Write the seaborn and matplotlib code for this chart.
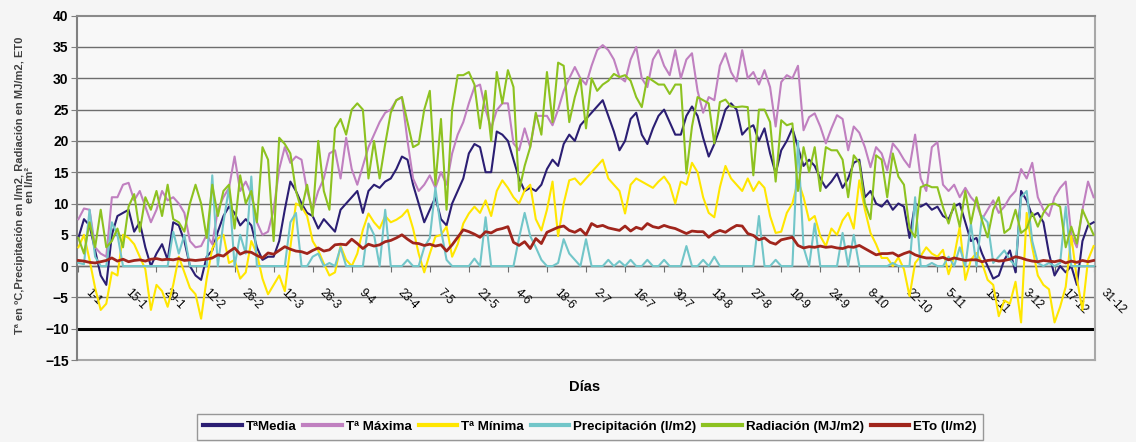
import numpy as np
import pandas as pd
import matplotlib
matplotlib.use("Agg")
import matplotlib.pyplot as plt
import matplotlib.transforms as mtransforms
import seaborn as sns

# ---------------- data (one value every 2 days, day index 0..364) ----------------
dias = list(range(0, 365, 2))

t_media = [
    4.5, 7.5, 6.5, 2.5, -1.5, -3, 5,
    8, 8.5, 9, 5.5, 7, 3, 0,
    2, 3.5, 1, 7, 6.5, 4, 0,
    -1.5, -2.2, 1.5, 2.5, 5.5, 8, 9.5,
    8.5, 6.5, 7.5, 6.5, 3, 1, 1.5,
    1.5, 4, 9, 13.5, 12, 10, 8.5,
    8, 6, 7.5, 6.5, 5.5, 9, 10,
    11, 12, 8.5, 12, 13, 12.5, 13.5,
    14, 15.5, 17.5, 17, 13, 10, 7,
    9, 11, 7.5, 6.5, 10, 12, 14,
    18, 19.5, 19, 15, 15, 21.5, 21,
    20, 17, 14, 12, 12.5, 12, 13,
    15.5, 17, 16, 19.5, 21, 20, 22.5,
    23.5, 24.5, 25.5, 26.5, 24, 21.5, 18.5,
    20, 23.5, 24.5, 21, 19.5, 22, 24,
    25, 23, 21, 21, 24, 25.5, 24,
    20.5, 17.5, 19.5, 22, 25, 26, 25,
    21, 22, 22.5, 20, 22, 18, 14.8,
    18.5, 20, 22, 19, 16, 17, 16,
    14, 12.5, 13.5, 14.8, 12.5, 14, 16.5,
    17, 11, 12, 10, 9.5, 10.5, 9,
    10, 9.5, 4.5, 10, 9.5, 10, 9,
    9.5, 8, 7.5, 9.5, 10, 7, 4,
    4.5, 2, 0, -2, -1.5, 1, 2.5,
    -1, 12, 10.5, 8, 8.5, 7, 2,
    -1.5, 0, -1, 0, -3, 4, 6.5,
    7,
]

t_maxima = [
    7.5, 9.2, 9, 3, 2, 1.5, 11,
    11, 13, 13.3, 10.5, 12, 9.5, 7,
    9, 12, 10.5, 11, 10, 8.5, 4,
    3, 3.2, 5, 3.5, 9, 11, 12.5,
    17.5, 12, 13.5, 11.5, 7, 5, 5.5,
    9, 15.5, 19, 16.5, 17.5, 17, 12,
    9, 12, 14, 18, 18.5, 14, 20.5,
    15.5, 13, 16, 19, 21, 23, 24.5,
    25, 26.5, 27, 20, 14, 12, 13,
    14.5, 12.5, 15, 13, 18, 21, 23,
    26, 28.6, 29, 25, 22, 24.9, 26,
    26, 19.6, 18.5, 22, 19, 24, 24,
    24, 22.5, 25, 28, 30, 31.8, 30,
    29, 32, 34.5, 35.3, 34.5, 33, 30.2,
    29.5, 33, 35, 30, 28.6, 33, 34.5,
    32, 30.5, 34.5, 30, 33, 34, 28,
    24.5, 27, 26.5, 32, 34, 31, 29.5,
    34.5, 30, 31, 29, 31.3, 28.6, 22.3,
    29.4, 30.5, 30, 32, 21.7, 23.8, 24.4,
    22.3, 19.6, 22, 24.1, 23.5, 18.5, 22.3,
    21.3, 19, 15.8, 19, 18, 15.3, 19.6,
    18.5, 17, 15.8, 21, 14, 12, 19,
    19.8, 13, 12, 13, 11, 12.5, 11,
    10, 7.5, 9, 10.5, 8.5, 9.5, 11,
    12, 15.5, 14, 16.5, 11, 9, 8,
    11, 12.5, 13.5, 5, 3, 9, 13.5,
    11,
]

t_minima = [
    3, 5, 1, -3.5, -7, -6, -1,
    -1.5, 5, 4.5, 3.5, 1.5, -0.5, -7,
    -3, -4, -6.5, -3, 1.5, -1, -3.5,
    -4.5, -8.4, -2, 2.8, 4.4, 5, 0.5,
    1, -2, -1, 4, 2, -2, -4.5,
    -3, -1.5, -4, 3, 10, 9.5, 8,
    4, 2.5, 0.4, -1.5, -1, 3.2, 1,
    0, 2, 5.8, 8.4, 7, 6, 8,
    7, 7.4, 8, 9, 6, 2, -1,
    2, 4.7, 5, 6.3, 1.5, 3.5, 6.8,
    8.4, 9.5, 8.5, 10.5, 8, 12, 13.7,
    12.5, 11, 10, 12.1, 13, 7.5, 5.7,
    9, 13.5, 4.8, 10, 13.7, 14, 13,
    14, 15, 16, 17, 14, 13, 12,
    8.4, 13, 14, 13.5, 13, 12.5, 13.5,
    14.3, 13, 10, 13.5, 13, 16.5, 15,
    11, 8.5, 7.8, 12.6, 16, 14, 13,
    12, 14, 12, 13.5, 12.5, 8, 5.3,
    5.5, 8.5, 10, 13.7, 11, 7.3, 8,
    4.8, 3.2, 6, 5, 7.3, 8.5, 6,
    13.7, 9, 5.3, 3.5, 1.3, 1.3, 0,
    1.4, -0.5, -4.8, 0.5, 1.6, 3, 2,
    1.5, 2.6, -1.3, 1.5, 6.3, -2.2, 1,
    2.1, 0.5, -2.2, -3, -8, -5.5, -6,
    -2.5, -9, 8.5, 3, -1.5, -3, -3.7,
    -9, -6.5, -3.3, 4.8, -2, -7, 1,
    3.2,
]

precipitacion = [
    0.5, 0.3, 9, 1.5, 0, 0, 7,
    5, 0, 0, 0, 0, 0, 0,
    0, 0, 0, 5.5, 2, 5, 0,
    0, 0, 0, 14.5, 0, 7, 12.5,
    0, 5, 2, 14.3, 0, 0, 0,
    0, 0, 0, 7, 8.5, 0, 0,
    1.5, 2, 0, 0.5, 0, 3, 0,
    0, 0, 0, 6.8, 5, 0, 9,
    0, 0, 0, 1, 0, 0, 3,
    4.5, 12.5, 5.8, 1, 0, 0, 0,
    0, 1.2, 0, 7.8, 0, 0, 0,
    0, 0, 4.5, 8.5, 4.8, 3, 1,
    0, 0, 0.5, 4.3, 2, 1, 0,
    4.3, 0, 0, 0, 1, 0, 0.8,
    0, 1, 0, 0, 1, 0, 0,
    1, 0, 0, 0, 3.2, 0, 0,
    1, 0, 1.5, 0, 0, 0, 0,
    0, 0, 0, 8, 0, 0, 1,
    0, 0, 0, 20, 3, 0, 6.8,
    0, 0, 0, 0, 5.3, 0, 5,
    0, 0, 0, 0, 0, 0, 0.5,
    0, 0, 0, 11, 0, 0, 0.5,
    0, 0, 1.5, 0, 3, 0, 6.8,
    0, 8, 7, 0.5, 1.5, 2.5, 1,
    0, 11, 12, 4, 0.5, 0, 0.5,
    0, 0.5, 9.5, 0, 0, 0, 0,
    0,
]

radiacion = [
    4.5, 2, 7, 3, 9, 3, 4,
    6, 3, 9.5, 11.5, 5.5, 11, 9,
    12, 8, 13, 7.5, 7, 5.5, 10,
    13, 10, 4.5, 13, 8, 12, 13,
    6, 14.5, 10, 12, 7, 19, 17,
    4, 20.5, 19.5, 18, 12, 9, 13,
    8, 20, 12, 9, 22, 23.5, 21,
    25, 26, 25, 14, 20, 14, 19.5,
    24.5, 26.5, 27, 23, 19, 19.5, 25,
    28, 13, 23.5, 9, 25, 30.5, 30.5,
    31, 29, 22, 28, 20, 31, 26,
    31.3, 28.6, 12, 16, 19, 24.5, 21,
    31, 23, 32.5, 32, 23, 27, 30,
    22, 30, 28, 29, 29.6, 30.7, 30.2,
    30.5, 29.6, 27, 25.4, 30.2, 29.6, 29,
    29, 27.5, 29, 29, 14.8, 22.3, 27,
    26.5, 26, 19.6, 26.2, 26.6, 25.5, 25.4,
    25.5, 25.4, 14.5, 25, 25, 23, 13.5,
    23.3, 22.5, 22.8, 12, 19, 15, 19,
    12, 19, 18.5, 18.5, 17, 11, 17.7,
    16.5, 10, 7.5, 17.7, 17, 11, 18,
    14.3, 13, 6, 4.6, 12.6, 13, 12.6,
    12.6, 9.4, 6.8, 10, 6.3, 12, 6.8,
    11, 7.3, 4.6, 9, 11, 5.3, 6,
    9, 5.3, 6, 8.5, 6.3, 8.5, 9.8,
    10, 9.5, 3, 6.3, 3.6, 9, 7,
    5,
]

eto = [
    0.9, 0.8, 0.6, 0.5, 0.7, 0.9, 1.3,
    0.8, 1.1, 0.7, 0.9, 1.0, 0.8, 1.1,
    1.2, 1.0, 1.1, 1.0, 1.2, 0.9, 1.0,
    0.9, 1.0, 1.1, 1.3, 1.8, 1.6, 2.3,
    2.9, 1.9, 2.3, 2.2, 1.7, 1.3, 2.1,
    1.9, 2.5, 3.1, 2.7, 2.4, 2.3, 2.0,
    2.5, 2.9, 2.4, 2.6, 3.4, 3.5, 3.4,
    4.3, 3.6, 2.8, 3.5, 3.2, 3.4, 3.9,
    4.1, 4.5, 5.0, 4.3, 3.7, 3.6, 3.3,
    3.5, 3.2, 3.4, 2.4, 3.4, 4.6, 5.8,
    5.5, 5.1, 4.6, 5.5, 5.3, 5.8, 6.0,
    6.3, 3.8, 3.3, 3.9, 2.8, 4.4, 3.6,
    5.4, 5.8, 6.2, 6.4, 5.7, 5.4, 5.9,
    5.0, 6.8, 6.3, 6.5, 6.1, 5.9, 5.7,
    6.4, 5.6, 6.2, 5.9, 6.8, 6.3, 6.1,
    6.5, 6.2, 6.0, 5.6, 5.2, 5.6, 5.5,
    5.5, 4.6, 5.3, 5.7, 5.4, 6.0, 6.5,
    6.4, 5.2, 4.9, 4.2, 4.5, 3.8, 3.5,
    4.2, 4.4, 4.6, 3.3, 2.9, 3.1, 3.0,
    3.2, 3.0, 3.1, 2.9, 2.8, 3.1, 3.0,
    3.3, 2.8, 2.3, 1.8, 2.0, 2.0, 2.1,
    1.6, 2.0, 2.3, 1.8, 1.5, 1.3, 1.3,
    1.2, 1.4, 1.0, 1.3, 1.1, 0.9, 1.0,
    1.0, 0.7, 0.9, 1.0, 0.8, 0.9, 1.1,
    1.5, 1.3, 1.0, 0.8, 0.7, 0.9, 0.8,
    0.7, 0.9, 0.5, 0.8, 0.6, 0.9, 0.7,
    0.9,
]

series_names = ["TªMedia", "Tª Máxima", "Tª Mínima", "Precipitación (l/m2)",
                "Radiación (MJ/m2)", "ETo (l/m2)"]
series_values = [t_media, t_maxima, t_minima, precipitacion, radiacion, eto]
series_colors = ["#2B1E73", "#C080C0", "#FFE600", "#72C6C9", "#8DC220", "#A0251C"]

tick_days = list(range(0, 365, 14))
tick_labels = ["1-1", "15-1", "29-1", "12-2", "26-2", "12-3", "26-3", "9-4", "23-4",
               "7-5", "21-5", "4-6", "18-6", "2-7", "16-7", "30-7", "13-8", "27-8",
               "10-9", "24-9", "8-10", "22-10", "5-11", "19-11", "3-12", "17-12", "31-12"]

for v in series_values:
    assert len(v) == len(dias), len(v)

df = pd.concat([pd.DataFrame({"dia": dias, "valor": v, "serie": n})
                for n, v in zip(series_names, series_values)], ignore_index=True)

# ---------------- figure ----------------
sans = ["Liberation Sans", "DejaVu Sans"]
plt.rcParams["font.family"] = sans

fig = plt.figure(figsize=(11.36, 4.42), dpi=100, facecolor="#f5f5f5")
ax = fig.add_axes([77 / 1136, 1 - 360 / 442, (1095 - 77) / 1136, (360 - 15.7) / 442])
ax.set_facecolor("#f8f8f8")

sns.lineplot(data=df, x="dia", y="valor", hue="serie", hue_order=series_names,
             palette=dict(zip(series_names, series_colors)), linewidth=1.5,
             ax=ax, zorder=3)
ax.lines[5].set_linewidth(2.0)

ax.set_xlim(-0.5, 364.5)
ax.set_ylim(-15, 40)
ax.set_yticks(range(-15, 41, 5))
for yv in range(-5, 40, 5):
    ax.axhline(yv, color="#6e6e6e", lw=1.0, zorder=1)
ax.axhline(-10, color="black", lw=2.2, zorder=2)

for lab in ax.get_yticklabels():
    lab.set_fontweight("bold")
    lab.set_fontsize(10)
ax.tick_params(axis="y", direction="out", length=4, color="#808080", pad=2)

ax.spines["bottom"].set_position(("data", 0))
ax.spines["bottom"].set_color("#6e6e6e")
ax.spines["bottom"].set_linewidth(1.0)
ax.spines["left"].set_color("#808080")
ax.spines["left"].set_linewidth(1.5)
ax.spines["top"].set_color("#8a8a8a")
ax.spines["top"].set_linewidth(1.5)
ax.spines["right"].set_color("#a8a8a8")
ax.spines["right"].set_linewidth(1.5)
ax.axhline(-15, color="#a8a8a8", lw=1.5, zorder=2, clip_on=False)

ax.set_xticks(tick_days)
ax.set_xticklabels(tick_labels, rotation=-45, ha="left", va="top", fontsize=8.5)
ax.tick_params(axis="x", direction="out", length=4, color="#6e6e6e", pad=11)
offset = mtransforms.ScaledTranslation(5 / 100, 0, fig.dpi_scale_trans)
for lab in ax.get_xticklabels():
    lab.set_transform(lab.get_transform() + offset)

ax.set_xlabel("")
ax.set_ylabel("")

fig.text(585 / 1136, 1 - 387 / 442, "Días", ha="center", va="center",
         fontsize=10.5, fontweight="bold", family=sans)
fig.text(25 / 1136, 1 - 185 / 442,
         "Tª en ºC,Precipitación en l/m2, Radiación en MJ/m2, ET0\nen l/m²",
         rotation=90, ha="center", va="center", multialignment="center",
         fontsize=8, fontweight="bold", family=sans, color="#404040",
         linespacing=1.1)

handles, labels = ax.get_legend_handles_labels()
if ax.legend_ is not None:
    ax.legend_.remove()
leg = fig.legend(handles, labels, ncol=6, loc="upper center",
                 bbox_to_anchor=(590 / 1136, 1 - 414 / 442),
                 frameon=True, fancybox=False, edgecolor="#808080",
                 prop={"family": sans, "weight": "bold", "size": 9.6},
                 handlelength=2.9, handletextpad=0.3, columnspacing=0.5,
                 borderpad=0.5, borderaxespad=0)
leg.get_frame().set_facecolor("#f8f8f8")
leg.get_frame().set_linewidth(1.0)
for h in leg.legend_handles:
    h.set_linewidth(3.0)

fig.savefig("out.png", dpi=100, facecolor=fig.get_facecolor())
